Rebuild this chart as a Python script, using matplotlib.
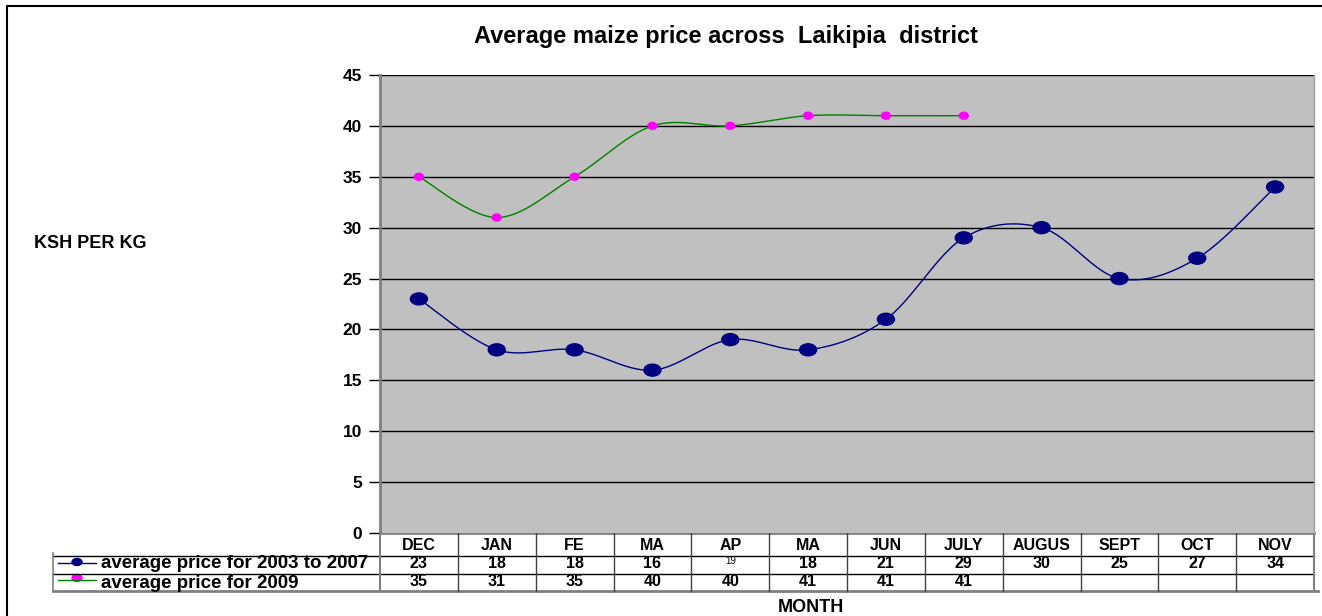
import matplotlib

matplotlib.use("Agg")
import matplotlib.pyplot as plt
import numpy as np
from matplotlib.patches import Ellipse

plt.rcParams["font.family"] = ["Liberation Sans", "DejaVu Sans"]

months = ["DEC", "JAN", "FE", "MA", "AP", "MA", "JUN", "JULY", "AUGUS", "SEPT", "OCT", "NOV"]
avg_0307 = [23, 18, 18, 16, 19, 18, 21, 29, 30, 25, 27, 34]
avg_2009 = [35, 31, 35, 40, 40, 41, 41, 41]
series_names = ["average price for 2003 to 2007", "average price for 2009"]
yticks = list(range(0, 50, 5))

W, H = 1322, 616
PX0, PX1, PY0, PY1 = 380, 1314, 75, 533  # plot area in pixels (top, bottom)


def smooth(xs, ys, n=30):
    """Excel-style smoothed line (Catmull-Rom through the points)."""
    xs = np.asarray(xs, float)
    ys = np.asarray(ys, float)
    px = np.concatenate([[xs[0]], xs, [xs[-1]]])
    py = np.concatenate([[ys[0]], ys, [ys[-1]]])
    ox, oy = [], []
    t = np.linspace(0, 1, n)
    for i in range(1, len(px) - 2):
        p0, p1, p2, p3 = (np.array([px[j], py[j]]) for j in (i - 1, i, i + 1, i + 2))
        c1 = p1 + (p2 - p0) / 6
        c2 = p2 - (p3 - p1) / 6
        pts = ((1 - t) ** 3)[:, None] * p1 + (3 * (1 - t) ** 2 * t)[:, None] * c1 \
            + (3 * (1 - t) * t ** 2)[:, None] * c2 + (t ** 3)[:, None] * p2
        ox.extend(pts[:, 0])
        oy.extend(pts[:, 1])
    return np.array(ox), np.array(oy)


fig = plt.figure(figsize=(W / 100, H / 100), dpi=100)

# overlay axes in pixel coordinates for frame, table and free text
ov = fig.add_axes([0, 0, 1, 1])
ov.set_xlim(0, W)
ov.set_ylim(H, 0)
ov.axis("off")

ax = fig.add_axes([PX0 / W, 1 - PY1 / H, (PX1 - PX0) / W, (PY1 - PY0) / H])
ax.set_facecolor("#c0c0c0")
n = len(months)
ax.set_xlim(-0.5, n - 0.5)
ax.set_ylim(0, 45)
ax.set_yticks(yticks)
ax.set_yticklabels([str(v) for v in yticks], fontsize=12.5, fontweight="bold")
ax.set_xticks([])
ax.tick_params(axis="y", length=8, width=1, color="black", pad=5)
for v in yticks[1:]:
    ax.axhline(v, color="black", lw=1, zorder=1)
for side in ["top", "bottom"]:
    ax.spines[side].set_visible(False)
ax.spines["left"].set_color("#808080")
ax.spines["left"].set_linewidth(2)
ax.spines["right"].set_color("#a0a0a0")
ax.spines["right"].set_linewidth(1)

x1 = np.arange(len(avg_0307))
sx, sy = smooth(x1, avg_0307)
ax.plot(sx, sy, color="#000080", lw=1, zorder=3)
x2 = np.arange(len(avg_2009))
sx, sy = smooth(x2, avg_2009)
ax.plot(sx, sy, color="#008000", lw=1, zorder=3)

# ellipse markers sized in pixels
xs_per_px = (n) / (PX1 - PX0)
ys_per_px = 45 / (PY1 - PY0)
for xi, yi in zip(x1, avg_0307):
    ax.add_patch(Ellipse((xi, yi), 17 * xs_per_px, 12 * ys_per_px, color="#000080", zorder=4))
for xi, yi in zip(x2, avg_2009):
    ax.add_patch(Ellipse((xi, yi), 9 * xs_per_px, 7 * ys_per_px, color="#ff00ff", zorder=4))

# outer chart frame
ov.plot([7, 7, W], [H, 6, 6], color="black", lw=1.5)

ov.text(726, 37, "Average maize price across  Laikipia  district", ha="center", va="center",
        fontsize=17, fontweight="bold")
ov.text(90, 243, "KSH PER KG", ha="center", va="center", fontsize=13, fontweight="bold")
ov.text(811, 607, "MONTH", ha="center", va="center", fontsize=13, fontweight="bold")

# data table
cw = (PX1 - PX0) / n
rows = [535, 556, 574, 591]
ov.plot([PX0, PX1], [rows[1], rows[1]], color="black", lw=1)
ov.plot([53, PX0], [rows[1], rows[1]], color="black", lw=1)
ov.plot([53, PX1], [rows[2], rows[2]], color="black", lw=1)
ov.plot([53, PX1 + 4], [rows[3], rows[3]], color="#808080", lw=2)
ov.plot([PX0, PX1], [PY1, PY1], color="#808080", lw=2)
ov.plot([53, 53], [rows[1] - 3, rows[3]], color="#808080", lw=1.2)
for i in range(n + 1):
    xx = PX0 + i * cw
    ov.plot([xx, xx], [PY1, rows[3]], color="#404040" if 0 < i < n else "#808080",
            lw=1 if 0 < i < n else 1.5)
for i, m in enumerate(months):
    cx = PX0 + (i + 0.5) * cw
    ov.text(cx, 546, m, ha="center", va="center", fontsize=11.5, fontweight="bold")
    v = avg_0307[i]
    if months[i] == "AP":
        ov.text(cx, 561, str(v), ha="center", va="center", fontsize=7)
    else:
        ov.text(cx, 564, str(v), ha="center", va="center", fontsize=11.5, fontweight="bold")
    if i < len(avg_2009):
        ov.text(cx, 582, str(avg_2009[i]), ha="center", va="center", fontsize=11.5,
                fontweight="bold")

# legend keys in the table
ov.plot([58, 96], [563, 563], color="#000080", lw=1)
ov.add_patch(Ellipse((77, 562), 10, 7, color="#000080"))
ov.plot([58, 96], [580, 580], color="#008000", lw=1)
ov.add_patch(Ellipse((77, 578), 10, 7, color="#ff00ff"))
ov.text(101, 564, series_names[0], ha="left", va="center", fontsize=13.5, fontweight="bold")
ov.text(101, 584, series_names[1], ha="left", va="center", fontsize=13.5, fontweight="bold")

fig.savefig("out.png", dpi=100)
